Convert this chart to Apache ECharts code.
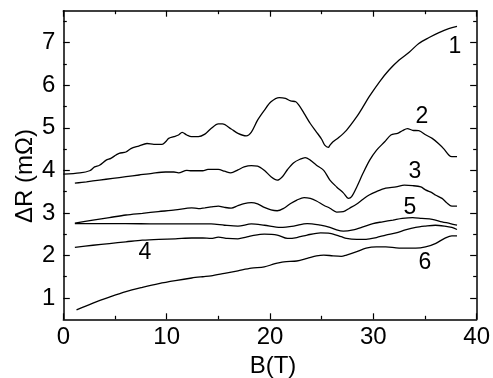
<!DOCTYPE html>
<html><head><meta charset="utf-8">
<script src="https://cdn.jsdelivr.net/npm/echarts@6/dist/echarts.min.js"></script>
<style>html,body{margin:0;padding:0;background:#fff}#c{width:493px;height:378px}</style>
</head><body><div id="c"></div>
<script>
// B (T), ΔR (mΩ)
const curve1 = [[0,3.91],[1.6,3.94],[2.55,3.99],[3.03,4.08],[3.5,4.12],[4.15,4.24],[4.6,4.28],[5.1,4.36],[5.4,4.40],[6.06,4.43],[6.54,4.51],[7.3,4.57],[8.1,4.63],[8.77,4.61],[9.56,4.61],[9.9,4.67],[10.2,4.75],[10.7,4.79],[11.15,4.83],[11.5,4.89],[11.95,4.83],[12.4,4.79],[13.07,4.79],[13.7,4.85],[14.3,4.98],[15.0,5.09],[15.4,5.09],[16.25,4.97],[16.9,4.87],[17.7,4.81],[18.2,4.90],[18.8,5.18],[19.45,5.41],[20.1,5.61],[20.9,5.71],[21.5,5.69],[22.0,5.63],[22.5,5.61],[22.8,5.53],[23.3,5.34],[23.9,5.10],[24.5,4.90],[25.0,4.73],[25.3,4.59],[25.65,4.54],[25.8,4.59],[26.1,4.67],[26.6,4.76],[27.4,4.94],[28.4,5.26],[29.0,5.49],[29.6,5.73],[30.6,6.08],[31.5,6.35],[32.5,6.59],[33.5,6.78],[34.4,6.98],[35.4,7.12],[36.3,7.23],[37.3,7.33],[38.1,7.38]];
const curve2 = [[1.12,3.70],[2.24,3.73],[3.5,3.77],[4.78,3.81],[6.06,3.85],[7.33,3.89],[8.6,3.93],[9.9,3.96],[10.7,3.96],[11.15,3.94],[11.95,4.00],[12.4,3.99],[13.5,3.99],[14.0,4.02],[15.0,4.02],[15.6,3.98],[16.2,3.94],[16.9,4.01],[17.5,4.08],[18.2,4.11],[18.8,4.10],[19.45,4.00],[20.1,3.85],[20.7,3.77],[21.2,3.85],[21.7,4.02],[22.3,4.18],[22.9,4.26],[23.4,4.30],[23.9,4.24],[24.5,4.12],[25.2,4.00],[25.8,3.77],[26.45,3.61],[27.1,3.47],[27.6,3.34],[27.9,3.38],[28.4,3.61],[29.0,3.93],[29.65,4.24],[30.3,4.47],[31.1,4.67],[31.7,4.83],[32.35,4.87],[32.8,4.93],[33.3,4.98],[33.8,4.94],[34.4,4.93],[35.1,4.83],[35.7,4.75],[36.3,4.63],[36.8,4.51],[37.3,4.36],[37.6,4.32],[38.1,4.32]];
const curve3 = [[1.12,2.76],[2.87,2.83],[4.46,2.89],[6.06,2.95],[7.65,2.99],[9.2,3.03],[10.84,3.07],[12.43,3.12],[13.07,3.10],[13.7,3.12],[14.3,3.14],[15.0,3.16],[15.6,3.13],[16.25,3.11],[16.9,3.17],[17.5,3.22],[18.2,3.24],[18.8,3.21],[19.45,3.13],[20.1,3.07],[20.7,3.05],[21.35,3.11],[22.0,3.22],[22.6,3.30],[23.3,3.36],[23.9,3.34],[24.5,3.28],[25.2,3.18],[25.8,3.11],[26.45,3.02],[27.1,3.03],[27.7,3.11],[28.4,3.21],[29.0,3.32],[29.6,3.42],[30.3,3.50],[31.2,3.58],[32.2,3.61],[33.0,3.65],[33.8,3.64],[34.6,3.61],[35.05,3.54],[35.7,3.47],[36.0,3.42],[36.65,3.34],[37.1,3.24],[37.6,3.16],[38.1,3.16]];
const curve4 = [[1.12,2.19],[2.87,2.24],[4.46,2.28],[6.06,2.32],[7.65,2.36],[9.25,2.38],[10.84,2.39],[12.43,2.41],[13.5,2.41],[14.3,2.40],[15.0,2.43],[15.9,2.40],[16.9,2.39],[17.7,2.43],[18.2,2.46],[19.45,2.50],[20.7,2.48],[21.7,2.40],[22.6,2.42],[23.6,2.48],[24.9,2.53],[25.8,2.52],[26.9,2.44],[27.4,2.40],[28.4,2.38],[29.3,2.38],[30.3,2.42],[31.2,2.48],[32.2,2.53],[33.1,2.60],[34.1,2.66],[35.05,2.69],[36.0,2.71],[36.9,2.69],[37.6,2.66],[38.1,2.61]];
const curve5 = [[1.12,2.75],[3,2.75],[6,2.75],[9,2.74],[12,2.74],[13.07,2.74],[14.3,2.74],[15.6,2.71],[16.9,2.69],[18.2,2.74],[19.45,2.71],[21.0,2.66],[22.3,2.69],[23.6,2.75],[24.9,2.71],[25.8,2.66],[26.45,2.60],[27.1,2.57],[28.05,2.60],[29.0,2.67],[29.96,2.75],[30.9,2.79],[31.9,2.83],[32.8,2.87],[33.8,2.89],[34.7,2.87],[35.7,2.85],[36.65,2.79],[37.45,2.75],[38.1,2.71]];
const curve6 = [[1.28,0.72],[2.87,0.88],[4.46,1.02],[6.06,1.15],[7.65,1.25],[9.25,1.34],[10.84,1.41],[12.43,1.47],[13.5,1.50],[14.3,1.52],[15.6,1.58],[16.9,1.64],[18.2,1.70],[19.45,1.73],[20.4,1.80],[21.35,1.85],[22.6,1.87],[23.6,1.93],[24.5,1.99],[25.2,2.01],[26.1,1.99],[26.9,1.98],[27.4,2.01],[28.4,2.09],[29.3,2.17],[30.3,2.20],[31.2,2.20],[32.2,2.18],[33.1,2.17],[34.1,2.17],[35.05,2.20],[36.0,2.28],[36.9,2.40],[37.6,2.46],[38.1,2.46]];
const curveNames = ['1','2','3','4','5','6'];
const yMajor = [1,2,3,4,5,6,7];
const yMinor = [1.5,2.5,3.5,4.5,5.5,6.5,7.5];
const xTitle = 'B(T)';
const yTitle = 'ΔR (mΩ)';

const FONT = '"Liberation Sans", Arial, Helvetica, sans-serif';
const chart = echarts.init(document.getElementById('c'), null, {renderer:'canvas'});
const lineStyleAxis = {color:'#000', width:1.5};
function yAx(pos, ticks, len, labels, line){
  return {type:'value', position:pos, min:0.5, max:7.75,
    axisLine:{show:line, lineStyle:lineStyleAxis},
    axisTick:{show:true, inside:true, length:len, customValues:ticks, lineStyle:{color:'#000', width:1.2}},
    axisLabel:{show:labels, customValues:yMajor, margin:8, color:'#000', fontSize:24, fontFamily:FONT},
    splitLine:{show:false}};
}
function xAx(pos, labels){
  return {type:'value', position:pos, min:0, max:40, interval:10,
    axisLine:{show:true, onZero:false, lineStyle:lineStyleAxis},
    axisTick:{show:true, inside:true, length:6, lineStyle:{color:'#000', width:1.2}},
    minorTick:{show:true, splitNumber:2, length:3.5, lineStyle:{color:'#000', width:1.2}},
    axisLabel:{show:labels, margin:6, color:'#000', fontSize:24, fontFamily:FONT},
    splitLine:{show:false}};
}
const curves = [curve1, curve2, curve3, curve4, curve5, curve6];
const labelPos = [[455,47],[422,117],[415,172],[145,253],[410,208],[425,263]];
chart.setOption({
  animation:false,
  backgroundColor:'#fff',
  grid:{left:63.3, right:11.3, top:10.7, bottom:58.7, containLabel:false},
  xAxis:[xAx('bottom', true), xAx('top', false)],
  yAxis:[yAx('left', yMajor, 6.5, true, true), yAx('left', yMinor, 3.5, false, false),
         yAx('right', yMajor, 6.5, false, true), yAx('right', yMinor, 3.5, false, false)],
  series: curves.map((d,i)=>({type:'line', name:curveNames[i], data:d, xAxisIndex:0, yAxisIndex:0,
    showSymbol:false, smooth:0.3, lineStyle:{color:'#000', width:1.3}})),
  graphic: [
    {type:'text', x:25, y:176, rotation:Math.PI/2, style:{text:yTitle, x:0, y:0, align:'center', verticalAlign:'middle', fill:'#000', font:'24px '+FONT}},
    {type:'text', x:273, y:366, style:{text:xTitle, x:0, y:0, align:'center', verticalAlign:'middle', fill:'#000', font:'24px '+FONT}}
  ].concat(labelPos.map((p,i)=>({type:'text', x:p[0], y:p[1], style:{text:curveNames[i], x:0, y:0, align:'center', verticalAlign:'middle', fill:'#000', font:'23px '+FONT}})))
});
</script></body></html>
